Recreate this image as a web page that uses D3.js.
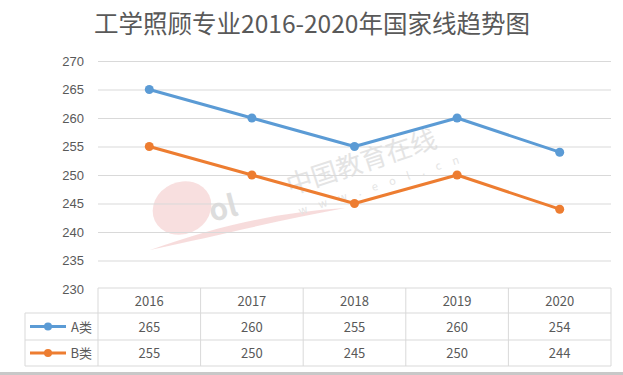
<!DOCTYPE html>
<html><head><meta charset="utf-8">
<script src="https://cdn.jsdelivr.net/npm/d3@7/dist/d3.min.js"></script>
<style>body{margin:0;background:#fff;} svg{display:block;font-family:"Noto Sans CJK SC","Noto Sans",sans-serif;}</style>
</head><body>
<svg id="c" width="623" height="375"></svg>
<script>
const title = "工学照顾专业2016-2020年国家线趋势图";
const years = ["2016","2017","2018","2019","2020"];
const seriesNames = ["A类","B类"];
const seriesA = [265,260,255,260,254];
const seriesB = [255,250,245,250,244];
const yTicks = [230,235,240,245,250,255,260,265,270];
const colors = ["#5B9BD5","#ED7D31"];

(function(){
const svg = d3.select("#c");
const W=623,H=375;
const pL=98,pR=611,pT=61,pB=289;
const x = d3.scaleBand().domain(years).range([pL,pR]);
const y = d3.scaleLinear().domain([230,270]).range([pB,pT]);

svg.append("text").attr("x",312).attr("y",33).attr("text-anchor","middle")
  .attr("font-size",24.5).attr("fill","#595959").text(title);

// watermark
const wm = svg.append("g");
wm.append("ellipse").attr("cx",182).attr("cy",208).attr("rx",30).attr("ry",26)
  .attr("fill","#f2c4c4").attr("opacity",0.55).attr("transform","rotate(-25,182,208)");
wm.append("path").attr("d","M150,250 C220,225 280,212 345,208 C280,220 220,235 150,250 Z")
  .attr("fill","#f2c4c4").attr("opacity",0.6);
wm.append("text").attr("x",212).attr("y",222).attr("font-size",30).attr("font-weight","bold")
  .attr("fill","#ddd").attr("transform","rotate(-15,212,222)").text("ol");
wm.append("text").attr("x",290).attr("y",195).attr("font-size",26).attr("fill","#e4e4e4")
  .attr("transform","rotate(-18,290,195)").text("中国教育在线");
wm.append("text").attr("x",300).attr("y",215).attr("font-size",11).attr("fill","#e4e4e4")
  .attr("letter-spacing",12).attr("transform","rotate(-18,300,215)").text("www.eol.cn");

// grid
const yAxis = d3.axisLeft(y).tickValues(yTicks).tickSize(-(pR-pL)).tickPadding(14);
const ga = svg.append("g").attr("transform",`translate(${pL},0)`).call(yAxis);
ga.select(".domain").remove();
ga.selectAll(".tick line").attr("stroke","#d9d9d9");
ga.selectAll(".tick").filter(d=>d===230).select("line").remove();
ga.selectAll(".tick text").attr("font-size",13).attr("fill","#595959");

// lines
[seriesA,seriesB].forEach((s,i)=>{
  const line = d3.line().x((d,j)=>x(years[j])+x.bandwidth()/2).y(d=>y(d));
  svg.append("path").datum(s).attr("d",line).attr("fill","none")
    .attr("stroke",colors[i]).attr("stroke-width",3).attr("stroke-linejoin","round");
  svg.selectAll(null).data(s).enter().append("circle")
    .attr("cx",(d,j)=>x(years[j])+x.bandwidth()/2).attr("cy",d=>y(d)).attr("r",4.5)
    .attr("fill",colors[i]);
});

// table
const rowY = [288,313,340,366];
const tableLeft=25;
const tg = svg.append("g").attr("stroke","#d9d9d9").attr("stroke-width",1);
tg.append("line").attr("x1",pL).attr("x2",pR).attr("y1",rowY[0]).attr("y2",rowY[0]);
tg.append("line").attr("x1",tableLeft).attr("x2",pR).attr("y1",rowY[1]).attr("y2",rowY[1]);
tg.append("line").attr("x1",tableLeft).attr("x2",pR).attr("y1",rowY[2]).attr("y2",rowY[2]);
tg.append("line").attr("x1",tableLeft).attr("x2",pR).attr("y1",rowY[3]).attr("y2",rowY[3]);
tg.append("line").attr("x1",tableLeft).attr("x2",tableLeft).attr("y1",rowY[1]).attr("y2",rowY[3]);
years.concat(["end"]).forEach((yr,i)=>{
  const xx = i<years.length ? x(yr) : pR;
  tg.append("line").attr("x1",xx).attr("x2",xx).attr("y1",rowY[0]).attr("y2",rowY[3]);
});
svg.selectAll(null).data(years).enter().append("text")
  .attr("x",d=>x(d)+x.bandwidth()/2).attr("y",(rowY[0]+rowY[1])/2+5)
  .attr("text-anchor","middle").attr("font-size",13).attr("fill","#595959").text(d=>d);
[seriesA,seriesB].forEach((s,i)=>{
  const cy=(rowY[i+1]+rowY[i+2])/2;
  svg.selectAll(null).data(s).enter().append("text")
    .attr("x",(d,j)=>x(years[j])+x.bandwidth()/2).attr("y",cy+5)
    .attr("text-anchor","middle").attr("font-size",13).attr("fill","#595959").text(d=>d);
  svg.append("line").attr("x1",30).attr("x2",66).attr("y1",cy).attr("y2",cy)
    .attr("stroke",colors[i]).attr("stroke-width",3);
  svg.append("circle").attr("cx",48).attr("cy",cy).attr("r",4).attr("fill",colors[i]);
  svg.append("text").attr("x",92).attr("y",cy+5).attr("text-anchor","end")
    .attr("font-size",13).attr("fill","#595959").text(seriesNames[i]);
});
svg.append("rect").attr("x",0).attr("y",372).attr("width",W).attr("height",3).attr("fill","#c8c8c8");
})();
</script>
</body></html>
